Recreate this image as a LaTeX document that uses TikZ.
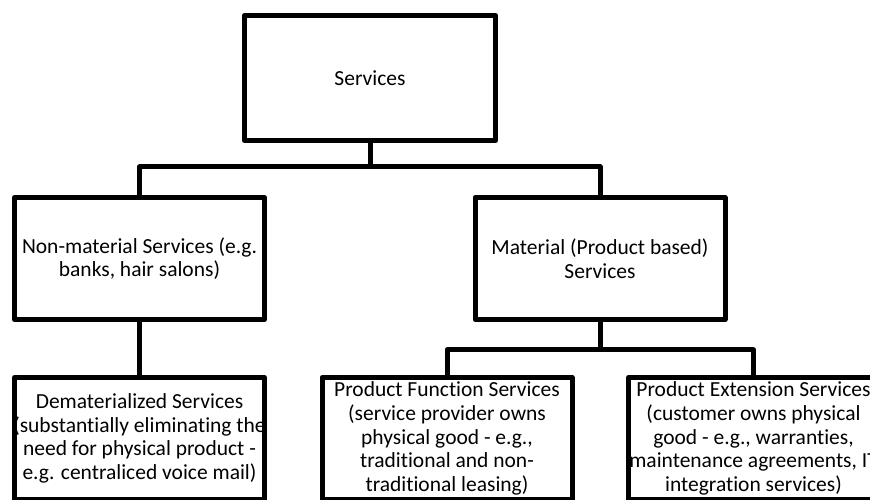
\documentclass[tikz,border=0pt]{standalone}
\usepackage{fontspec}
\setmainfont{Carlito}[Ligatures=NoCommon]
\tikzset{
  box/.style={draw=black, line width=5pt, line join=round, fill=white,
    minimum width=250pt, minimum height=122pt, inner sep=0pt},
  txt/.style={align=center, inner sep=0pt,
    font=\fontsize{21.5pt}{23.6pt}\selectfont},
  link/.style={draw=black, line width=5pt, line join=round}
}
\begin{document}
\begin{tikzpicture}[x=1pt, y=1pt]
  \useasboundingbox (0,0) rectangle (870,500);
  \clip (0,0) rectangle (870,500);

  % boxes
  \node[box, minimum width=251pt, minimum height=125pt] (top) at (370,422) {};
  \node[box] (nonmat) at (139.5,241.5) {};
  \node[box] (mat) at (600,241.5) {};
  \node[box] (demat) at (139.5,61.5) {};
  \node[box] (func) at (447,61.5) {};
  \node[box] (ext) at (753.5,61.5) {};

  % junctions of the connectors
  \coordinate (j1) at (370,333);
  \coordinate (j2) at (600,150);

  % connectors
  \draw[link] (top.south) -- (j1);
  \draw[link] (nonmat.north) |- (j1) -| (mat.north);
  \draw[link] (nonmat.south) -- (demat.north);
  \draw[link] (mat.south) -- (j2);
  \draw[link] (func.north) |- (j2) -| (ext.north);

  % labels
  \node[txt] (ttop) at (top) {Services};
  \node[txt] (tnonmat) at (nonmat) {Non-material Services (e.g.\\banks, hair salons)};
  \node[txt] (tmat) at (mat) {Material (Product based)\\Services};
  \node[txt] (tdemat) at (demat) {Dematerialized Services\\(substantially eliminating the\\need for physical product -\\e.g. centraliced voice mail)};
  \node[txt] (tfunc) at (func) {Product Function Services\\(service provider owns\\physical good - e.g.,\\traditional and non-\\traditional leasing)};
  \node[txt] (text) at (ext) {Product Extension Services\\(customer owns physical\\good - e.g., warranties,\\maintenance agreements, IT\\integration services)};
\end{tikzpicture}
\end{document}
